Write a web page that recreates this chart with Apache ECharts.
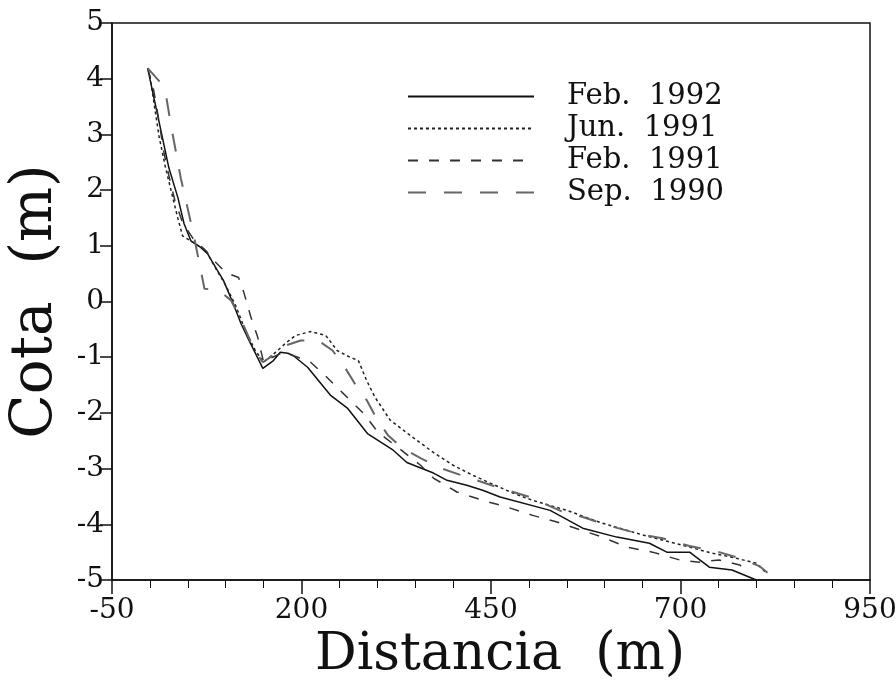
<!DOCTYPE html>
<html>
<head>
<meta charset="utf-8">
<title>Cota vs Distancia</title>
<script src="https://cdn.jsdelivr.net/npm/echarts@6/dist/echarts.min.js"></script>
<style>
	html, body { margin: 0; padding: 0; background: #fff; }
	#chart { width: 896px; height: 684px; }
</style>
</head>
<body>
<div id="chart"></div>
<script type="text/javascript">
// perfiles de playa, distancia (m) / cota (m)
var feb1992X = [-3, 25, 37, 45, 54, 67, 76, 89, 97, 110, 120, 129, 149, 163, 172, 182, 189, 208, 238, 261, 287, 321, 339, 374, 392, 418, 439, 462, 528, 571, 616, 659, 682, 712, 738, 768, 800];
var feb1992Y = [4.19, 2.40, 1.86, 1.40, 1.09, 0.97, 0.86, 0.56, 0.38, -0.04, -0.39, -0.65, -1.20, -1.06, -0.91, -0.93, -0.97, -1.18, -1.68, -1.92, -2.37, -2.67, -2.89, -3.08, -3.21, -3.30, -3.39, -3.51, -3.75, -4.07, -4.23, -4.34, -4.50, -4.50, -4.77, -4.82, -5.00];

var jun1991X = [0, 5, 12, 20, 28, 36, 43, 57, 74, 87, 100, 113, 126, 139, 150, 166, 179, 192, 212, 232, 247, 264, 275, 286, 297, 317, 343, 374, 400, 426, 449, 479, 505, 550, 597, 650, 712, 742, 768, 800, 813];
var jun1991Y = [4.05, 3.60, 2.97, 2.44, 1.99, 1.54, 1.18, 1.06, 0.91, 0.59, 0.29, -0.07, -0.52, -0.88, -1.09, -0.91, -0.75, -0.61, -0.54, -0.61, -0.88, -1.00, -1.06, -1.42, -1.72, -2.13, -2.40, -2.71, -2.94, -3.12, -3.26, -3.44, -3.57, -3.75, -3.98, -4.19, -4.41, -4.52, -4.59, -4.70, -4.87];

var feb1991X = [-3, 4, 12, 18, 25, 33, 43, 57, 74, 87, 100, 117, 124, 133, 142, 150, 162, 176, 195, 212, 232, 255, 282, 301, 328, 357, 374, 405, 439, 471, 505, 537, 597, 629, 663, 699, 725, 751, 778, 791];
var feb1991Y = [4.19, 3.87, 3.24, 2.71, 2.26, 1.81, 1.42, 1.13, 0.91, 0.70, 0.52, 0.43, 0.16, -0.27, -0.63, -1.09, -1.00, -0.91, -1.00, -1.09, -1.34, -1.65, -2.01, -2.35, -2.63, -2.94, -3.17, -3.42, -3.57, -3.69, -3.84, -3.96, -4.23, -4.41, -4.50, -4.64, -4.68, -4.64, -4.73, -4.86];

var sep1990X = [-3, 12, 22, 28, 34, 41, 49, 58, 64, 72, 91, 107, 122, 138, 149, 162, 179, 199, 222, 241, 258, 272, 286, 299, 314, 333, 357, 383, 422, 462, 501, 545, 571, 607, 650, 676, 712, 751, 778, 804, 820];
var sep1990Y = [4.19, 3.96, 3.64, 3.15, 2.71, 2.20, 1.72, 1.18, 0.77, 0.23, 0.20, 0.02, -0.38, -0.88, -1.09, -0.97, -0.79, -0.70, -0.70, -0.88, -1.20, -1.51, -1.77, -2.10, -2.40, -2.63, -2.81, -2.99, -3.17, -3.35, -3.51, -3.78, -3.87, -4.03, -4.19, -4.25, -4.39, -4.50, -4.61, -4.75, -4.93];

var seriesNames = ['Feb.  1992', 'Jun.  1991', 'Feb.  1991', 'Sep.  1990'];

function pairs(xs, ys) {
	var out = [];
	for (var i = 0; i < xs.length; i++) {
		out.push([xs[i], ys[i]]);
	}
	return out;
}

var serif = 'DejaVu Serif';
var myChart = echarts.init(document.getElementById('chart'), null, {renderer: 'canvas'});
var option = {
	backgroundColor: '#fff',
	animation: false,
	grid: {
		left: 112,
		right: 26,
		top: 23,
		bottom: 104,
		outerBoundsMode: 'none',
		show: true,
		borderColor: '#111',
		borderWidth: 1.5
	},
	legend: {
		left: 402,
		top: 77,
		orient: 'vertical',
		itemWidth: 126,
		itemHeight: 14,
		itemGap: 3,
		data: seriesNames,
		itemStyle: {opacity: 0},
		textStyle: {
			fontFamily: serif,
			fontSize: 29,
			lineHeight: 29,
			color: '#111',
			padding: [0, 0, 0, 28]
		}
	},
	xAxis: {
		type: 'value',
		min: -50,
		max: 950,
		interval: 250,
		name: 'Distancia  (m)',
		nameLocation: 'middle',
		nameGap: 33,
		nameTextStyle: {fontFamily: serif, fontSize: 52, color: '#111', padding: [0, 0, 0, 18]},
		axisLine: {onZero: false, lineStyle: {color: '#111', width: 1.5}},
		axisTick: {length: 14, lineStyle: {color: '#111', width: 1.5}},
		minorTick: {show: true, splitNumber: 5, length: 8, lineStyle: {color: '#111', width: 1}},
		splitLine: {show: false},
		axisLabel: {margin: 17, fontFamily: serif, fontSize: 28, color: '#111'}
	},
	yAxis: {
		type: 'value',
		min: -5,
		max: 5,
		interval: 1,
		name: 'Cota  (m)',
		nameLocation: 'middle',
		nameGap: 47,
		nameTextStyle: {fontFamily: serif, fontSize: 58, color: '#111'},
		axisLine: {onZero: false, lineStyle: {color: '#111', width: 1.5}},
		axisTick: {length: 12, lineStyle: {color: '#111', width: 1.5}},
		splitLine: {show: false},
		axisLabel: {margin: 8, fontFamily: serif, fontSize: 28, color: '#111'}
	},
	series: [
		{
			name: seriesNames[0],
			type: 'line',
			symbol: 'none',
			data: pairs(feb1992X, feb1992Y),
			lineStyle: {color: '#111', width: 1.5, type: 'solid'},
			itemStyle: {color: '#111'}
		},
		{
			name: seriesNames[1],
			type: 'line',
			symbol: 'none',
			data: pairs(jun1991X, jun1991Y),
			lineStyle: {color: '#222', width: 1.5, type: [3, 3]},
			itemStyle: {color: '#222'}
		},
		{
			name: seriesNames[2],
			type: 'line',
			symbol: 'none',
			data: pairs(feb1991X, feb1991Y),
			lineStyle: {color: '#333', width: 1.5, type: [10, 11]},
			itemStyle: {color: '#333'}
		},
		{
			name: seriesNames[3],
			type: 'line',
			symbol: 'none',
			data: pairs(sep1990X, sep1990Y),
			lineStyle: {color: '#666', width: 2, type: [18, 18]},
			itemStyle: {color: '#666'}
		}
	]
};
myChart.setOption(option);
</script>
</body>
</html>
